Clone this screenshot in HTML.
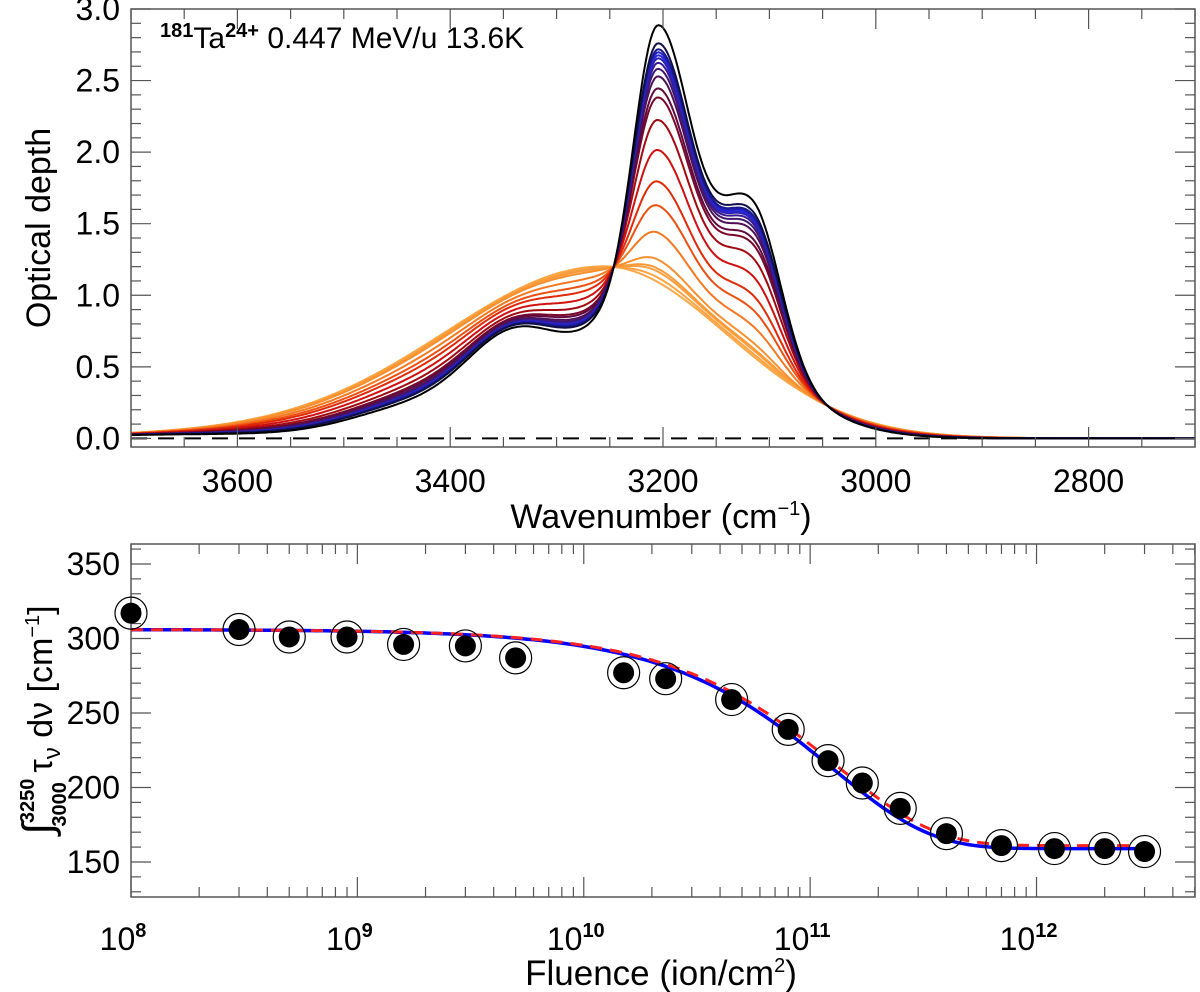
<!DOCTYPE html>
<html><head><meta charset="utf-8">
<style>
html,body{margin:0;padding:0;background:#fff;}
svg{display:block;font-family:"Liberation Sans",sans-serif;}
</style></head>
<body>
<svg id="fig" width="1200" height="992" viewBox="0 0 1200 992" xmlns="http://www.w3.org/2000/svg">
  <g id="topPanel"></g>
  <g id="botPanel"></g>
</svg>
<script>
// ===== Top panel data =====
const peakHeights = [2.91,2.79,2.75,2.73,2.71,2.69,2.66,2.62,2.57,2.49,2.43,2.28,2.08,1.87,1.71,1.53,1.35,1.29,1.27,1.23,1.20];
const curveColors = ["#000000","#12104c","#1a1a8c","#2020c0","#2828d8","#3020b0","#3a1a90","#401870","#501058","#600a40","#7a0828","#a00a10","#d01010","#e02a08","#ec5010","#f47820","#f89030","#fa9a38","#fba040","#fca444","#fda848"];
// band components (split gaussians): centre, left (high-wavenumber) width, right width
const compCenter = [3205,3115,3200,3340,3430,3600,3255];
const compWidthL = [22,30,65,45,60,150,150];
const compWidthR = [30,26,85,45,60,150,115];
const ampPristine   = [1.82,1.0,1.05,0.6,0.2,0.03,0];
const ampIrradiated = [0,0,0,0,0,0.03,1.2];
const topXTicks = [3600,3400,3200,3000,2800];
const topYTicks = ["0.0","0.5","1.0","1.5","2.0","2.5","3.0"];

// ===== Bottom panel data =====
const fluence = [1e8,3e8,5e8,9e8,1.6e9,3e9,5e9,1.5e10,2.3e10,4.5e10,8e10,1.2e11,1.7e11,2.5e11,4e11,7e11,1.2e12,2e12,3e12];
const bandArea = [317,306,301,301,296,295,287,277,273,259,239,218,203,186,169,161,159,159,157];
const fitBlue = [159,147,8.0e-12];
const fitRed = [161,145,7.6e-12];
const botYTicks = [150,200,250,300,350];
const botXExps = [8,9,10,11,12];

const NS="http://www.w3.org/2000/svg";
function mk(parent,tag,attrs){const e=document.createElementNS(NS,tag);for(const k in attrs)e.setAttribute(k,attrs[k]);parent.appendChild(e);return e;}

// ----- TOP -----
const T={l:131,r:1195,t:9,b:447,x0:3700,x1:2700,y0:-0.06,y1:3.0};
const tx=v=>T.l+(T.x0-v)/(T.x0-T.x1)*(T.r-T.l);
const ty=v=>T.b-(v-T.y0)/(T.y1-T.y0)*(T.b-T.t);
const topG=document.getElementById('topPanel');
const zl=mk(topG,'line',{x1:T.l,x2:T.r,y1:ty(0),y2:ty(0),stroke:'#000','stroke-width':2,'stroke-dasharray':'16,11'});


function spec(v,f){let s=0;for(let i=0;i<compCenter.length;i++){const a=(1-f)*ampPristine[i]+f*ampIrradiated[i];const w=v>=compCenter[i]?compWidthL[i]:compWidthR[i];const z=(v-compCenter[i])/w;s+=a*Math.exp(-z*z/2);}return s;}
const fList=peakHeights.map(p=>Math.max(0,Math.min(1,(2.91-p)/1.71)));
for(let k=peakHeights.length-1;k>=0;k--){
  let d='';
  for(let v=3700;v>=2700;v-=2){const y=spec(v,fList[k]);d+=(v===3700?'M':'L')+tx(v).toFixed(1)+','+ty(y).toFixed(1);}
  const p=mk(topG,'path',{d:d,fill:'none',stroke:curveColors[k],'stroke-width':2});
  
  
}
const tf=mk(topG,'rect',{x:T.l,y:T.t,width:T.r-T.l,height:T.b-T.t,fill:'none',stroke:'#555','stroke-width':1.5});


for(let v=3700;v>=2700;v-=50){const major=(v%200===0);const L=major?20:10;const x=tx(v);
  mk(topG,'line',{x1:x,x2:x,y1:T.b,y2:T.b-L,stroke:'#555','stroke-width':1.2});
  mk(topG,'line',{x1:x,x2:x,y1:T.t,y2:T.t+L,stroke:'#555','stroke-width':1.2});}
for(let i=0;i<=30;i++){const v=i/10;const major=(i%5===0);const L=major?20:10;const y=ty(v);
  mk(topG,'line',{x1:T.l,x2:T.l+L,y1:y,y2:y,stroke:'#555','stroke-width':1.2});
  mk(topG,'line',{x1:T.r,x2:T.r-L,y1:y,y2:y,stroke:'#555','stroke-width':1.2});}
topXTicks.forEach(v=>{const t=mk(topG,'text',{x:tx(v),y:492,'font-size':32,'text-anchor':'middle'});t.textContent=v;
  
  });
topYTicks.forEach(s=>{const t=mk(topG,'text',{x:120,y:ty(+s)+11,'font-size':32,'text-anchor':'end'});t.textContent=s;
  
  });
{const t=mk(topG,'text',{x:661,y:528,'font-size':34,'text-anchor':'middle'});t.innerHTML='Wavenumber (cm<tspan dy="-13" font-size="20">−1</tspan><tspan dy="13">)</tspan>';
 
 }
{const t=mk(topG,'text',{x:0,y:0,'font-size':34,'text-anchor':'middle',transform:'translate(50,228) rotate(-90)'});t.textContent='Optical depth';
 
 }
{const t=mk(topG,'text',{x:160,y:48,'font-size':30});t.innerHTML='<tspan font-size="20" font-weight="bold" dy="-11">181</tspan><tspan dy="11">Ta</tspan><tspan font-size="20" font-weight="bold" dy="-11">24+</tspan><tspan dy="11"> 0.447 MeV/u 13.6K</tspan>';
 
 }

// ----- BOTTOM -----
const B={l:131,r:1195,t:544,b:897,lx0:8,lx1:12.70,y0:126.5,y1:363.4};
const bx=F=>B.l+(Math.log10(F)-B.lx0)/(B.lx1-B.lx0)*(B.r-B.l);
const by=v=>B.b-(v-B.y0)/(B.y1-B.y0)*(B.b-B.t);
const botG=document.getElementById('botPanel');
const bf=mk(botG,'rect',{x:B.l,y:B.t,width:B.r-B.l,height:B.b-B.t,fill:'none',stroke:'#555','stroke-width':1.5});


for(let e=8;e<=12;e++){for(let m=1;m<10;m++){const F=m*Math.pow(10,e);if(Math.log10(F)>B.lx1)break;const x=bx(F);const L=m===1?20:10;
  mk(botG,'line',{x1:x,x2:x,y1:B.b,y2:B.b-L,stroke:'#555','stroke-width':1.2});
  mk(botG,'line',{x1:x,x2:x,y1:B.t,y2:B.t+L,stroke:'#555','stroke-width':1.2});}}
for(let v=130;v<=360;v+=10){const major=(v%50===0);const L=major?20:10;const y=by(v);
  mk(botG,'line',{x1:B.l,x2:B.l+L,y1:y,y2:y,stroke:'#555','stroke-width':1.2});
  mk(botG,'line',{x1:B.r,x2:B.r-L,y1:y,y2:y,stroke:'#555','stroke-width':1.2});}
botYTicks.forEach(v=>{const t=mk(botG,'text',{x:120,y:by(v)+11,'font-size':32,'text-anchor':'end'});t.textContent=v;
  
  });
botXExps.forEach(e=>{const t=mk(botG,'text',{x:bx(Math.pow(10,e))-8,y:950,'font-size':32,'text-anchor':'middle'});t.innerHTML='10<tspan dy="-13" font-size="20" font-weight="bold">'+e+'</tspan>';
  
  });
{const t=mk(botG,'text',{x:661,y:985,'font-size':35,'text-anchor':'middle'});t.innerHTML='Fluence (ion/cm<tspan dy="-13" font-size="20">2</tspan><tspan dy="13">)</tspan>';
 
 }
{const t=mk(botG,'text',{x:0,y:0,'font-size':34,'text-anchor':'middle',transform:'translate(52,720) rotate(-90)'});
 t.innerHTML='<tspan font-size="42">∫</tspan><tspan font-size="20" font-weight="bold" dy="-18">3250</tspan><tspan font-size="20" font-weight="bold" dx="-48" dy="32">3000</tspan><tspan dy="-14"> τ</tspan><tspan font-size="24" dy="8">ν</tspan><tspan dy="-8"> dν [cm</tspan><tspan font-size="20" dy="-13">−1</tspan><tspan dy="13">]</tspan>';
 
 }
function fitPath(p){let d='';for(let lf=8;lf<=Math.log10(3e12)+1e-9;lf+=0.02){const F=Math.pow(10,lf);const v=p[0]+p[1]*Math.exp(-p[2]*F);d+=(d?'L':'M')+bx(F).toFixed(1)+','+by(v).toFixed(1);}return d;}
const bl=mk(botG,'path',{d:fitPath(fitBlue),fill:'none',stroke:'#0000ff','stroke-width':3.5});


const rl=mk(botG,'path',{d:fitPath(fitRed),fill:'none',stroke:'#ff2020','stroke-width':3,'stroke-dasharray':'12,8'});


fluence.forEach((F,i)=>{const x=bx(F),y=by(bandArea[i]);
  const g=mk(botG,'g',{});
  
  
  mk(g,'circle',{cx:x,cy:y,r:16,fill:'none',stroke:'#000','stroke-width':1.2});
  mk(g,'circle',{cx:x,cy:y,r:10.5,fill:'#000'});});
</script>
</body></html>
